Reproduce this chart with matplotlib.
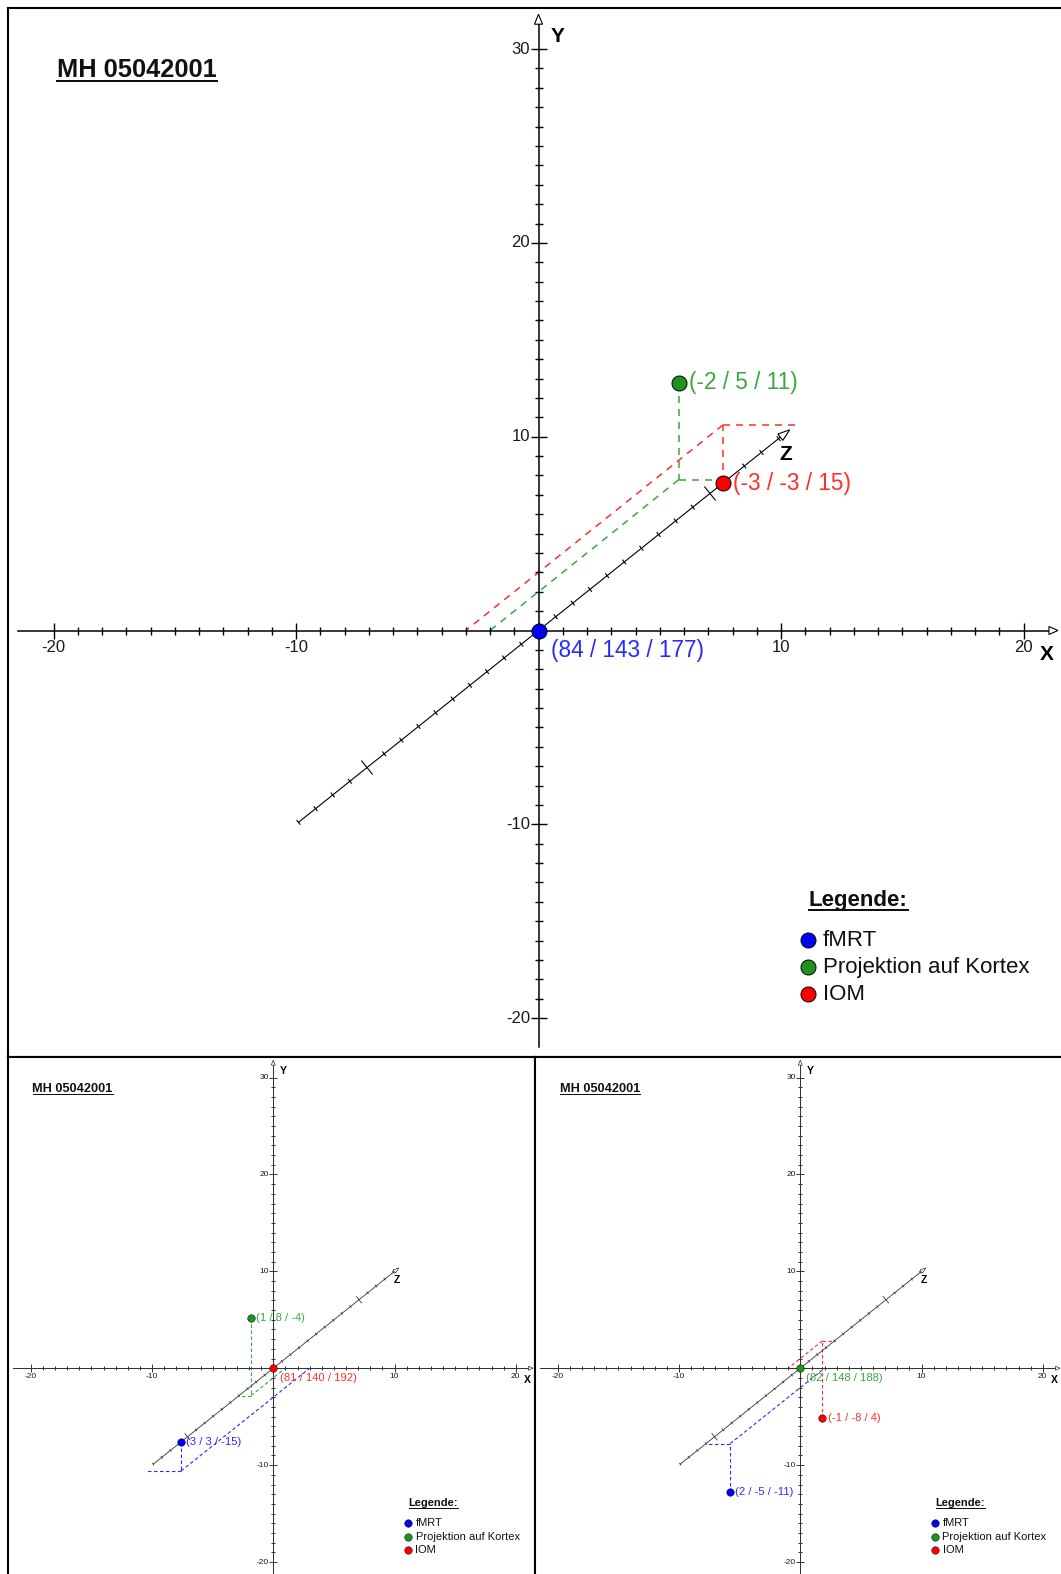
import math
import matplotlib
matplotlib.use("Agg")
import matplotlib.pyplot as plt
from matplotlib.lines import Line2D
from matplotlib.patches import Polygon
from matplotlib.collections import LineCollection
from matplotlib.transforms import IdentityTransform

plt.rcParams["font.family"] = ["Liberation Sans", "DejaVu Sans"]
plt.rcParams["lines.scale_dashes"] = False

# ---------------- chart content ----------------
case_id = "MH 05042001"
legend_title = "Legende:"
series_names = ["fMRT", "Projektion auf Kortex", "IOM"]
marker_colors = ["#0000ff", "#1f931f", "#ff0000"]
text_colors = ["#2a2aff", "#3aa83a", "#ff2e2e"]

x_major = [-20, -10, 10, 20]
y_major = [-20, -10, 10, 20, 30]
x_tick_span = (-20, 20)
y_tick_span = (-20, 30)
z_tick_span = (-14, 14)
z_major = [-10, 10]

# each view: the reference series sits at the origin (absolute coordinates),
# the other two series are given relative to it as x / y / z
view1_ref = "fMRT"
view1_ref_abs = [84, 143, 177]
view1_projektion = [-2, 5, 11]
view1_iom = [-3, -3, 15]

view2_ref = "IOM"
view2_ref_abs = [81, 140, 192]
view2_projektion = [1, 8, -4]
view2_fmrt = [3, 3, -15]

view3_ref = "Projektion auf Kortex"
view3_ref_abs = [82, 148, 188]
view3_iom = [-1, -8, 4]
view3_fmrt = [2, -5, -11]

views = [
    dict(ref=view1_ref, ref_abs=view1_ref_abs,
         others={"Projektion auf Kortex": view1_projektion, "IOM": view1_iom}),
    dict(ref=view2_ref, ref_abs=view2_ref_abs,
         others={"Projektion auf Kortex": view2_projektion, "fMRT": view2_fmrt}),
    dict(ref=view3_ref, ref_abs=view3_ref_abs,
         others={"IOM": view3_iom, "fMRT": view3_fmrt}),
]

# ---------------- layout ----------------
W, H, DPI = 1061, 1574, 100
SX, SY = 24.25, 19.38          # pixels per unit at full scale
ZK = 1 / math.sqrt(2)          # oblique projection of the z axis
ORIGIN_OFF = (530.5, 622.5)    # origin inside a panel (full scale)
panels = [((8, 8, 1061, 1057), 1.0),
          ((8, 1057, 535, 1574), 0.5),
          ((535, 1057, 1061, 1574), 0.5)]
spine_sides = [("left", "top", "bottom"),
               ("left", "top", "right"),
               ("left", "top")]


def px(d):
    return d / SX


def py(d):
    return d / SY


def proj(x, y, z):
    return x + ZK * z, y + ZK * z


def color_of(name):
    i = series_names.index(name)
    return marker_colors[i], text_colors[i]


def arrow_head(ax, tip, dir_px, length, half_w, lw):
    n = math.hypot(*dir_px)
    ux, uy = dir_px[0] / n, dir_px[1] / n
    bx, by = -ux * length, -uy * length
    nx, ny = -uy, ux
    pts = [(0, 0), (bx + nx * half_w, by + ny * half_w), (bx - nx * half_w, by - ny * half_w)]
    ax.add_patch(Polygon([(tip[0] + px(a), tip[1] + py(b)) for a, b in pts],
                         closed=True, fc="white", ec="black", lw=lw, zorder=4))
    return tip[0] + px(bx), tip[1] + py(by)


fig = plt.figure(figsize=(W / DPI, H / DPI), dpi=DPI)
fig.patch.set_facecolor("white")
underlines = []

for (rect, s), sides, view in zip(panels, spine_sides, views):
    left, top, right, bottom = rect
    ax = fig.add_axes([left / W, 1 - bottom / H, (right - left) / W, (bottom - top) / H])
    ox = left + ORIGIN_OFF[0] * s
    oy = top + ORIGIN_OFF[1] * s
    ax.set_xlim((left - ox) / (SX * s), (right - ox) / (SX * s))
    ax.set_ylim((oy - bottom) / (SY * s), (oy - top) / (SY * s))
    ax.set_xticks([])
    ax.set_yticks([])
    for side, sp in ax.spines.items():
        sp.set_visible(side in sides)
        sp.set_linewidth(1.5)
        sp.set_color("black")

    axis_lw = max(1.1 * s, 0.75)
    tick_lw = max(1.0 * s, 0.7)
    zline_lw = max(0.8 * s, 0.6)
    tick_fs = 12 * s
    ink = "#1a1a1a"
    axis_col = "black" if s == 1 else "#333333"

    # X axis
    xb = arrow_head(ax, (21.42, 0), (1, 0), 9, 4, 0.8 * s)
    ax.plot([-21.45, xb[0]], [0, 0], color=axis_col, lw=axis_lw, zorder=3)
    segs = []
    for v in range(x_tick_span[0], x_tick_span[1] + 1):
        if v == 0:
            continue
        h = 8 if v in x_major else 4
        segs.append([(v, -py(h)), (v, py(h))])
    # Y axis
    yb = arrow_head(ax, (0, 31.8), (0, 1), 10, 4, 0.8 * s)
    ax.plot([0, 0], [-21.5, yb[1]], color=axis_col, lw=axis_lw, zorder=3)
    for v in range(y_tick_span[0], y_tick_span[1] + 1):
        if v == 0:
            continue
        h = 8 if v in y_major else 4
        segs.append([(-px(h), v), (px(h), v)])
    ax.add_collection(LineCollection(segs, colors=axis_col, linewidths=tick_lw, zorder=3))

    # Z axis (oblique)
    zdir = (ZK * SX, ZK * SY)
    zn = math.hypot(*zdir)
    perp = (zdir[1] / zn, -zdir[0] / zn)
    z0 = proj(0, 0, z_tick_span[0])
    ztip = proj(0, 0, 14.65)
    zb = arrow_head(ax, ztip, zdir, 12, 4, 0.8 * s)
    ax.plot([z0[0], zb[0]], [z0[1], zb[1]], color=axis_col, lw=zline_lw, zorder=3)
    zsegs = []
    for v in range(z_tick_span[0], z_tick_span[1] + 1):
        if v == 0:
            continue
        h = 9 if v in z_major else 3
        cx, cy = proj(0, 0, v)
        zsegs.append([(cx - px(perp[0] * h), cy - py(perp[1] * h)),
                      (cx + px(perp[0] * h), cy + py(perp[1] * h))])
    ax.add_collection(LineCollection(zsegs, colors=axis_col, linewidths=zline_lw, zorder=3))

    # tick labels
    for v in x_major:
        ax.text(v, -py(17), f"{v}", ha="center", va="center", fontsize=tick_fs, color=ink)
    for v in y_major:
        ax.text(-px(8.5), v, f"{v}", ha="right", va="center", fontsize=tick_fs, color=ink)

    # axis names
    ax.text(px(12.5), py(630.5 - 37), "Y", ha="left", va="center",
            fontsize=15 * s, fontweight="bold")
    ax.text(px(1047 - 538.5), -py(654 - 630.5), "X", ha="center", va="center",
            fontsize=15 * s, fontweight="bold")
    ax.text(px(786 - 538.5), py(630.5 - 454), "Z", ha="center", va="center",
            fontsize=15 * s, fontweight="bold")

    # dashed construction lines and points relative to the reference
    if s == 1:
        dash = (0, (7 * 0.72, 6 * 0.72))
    else:
        dash = (0, (3.5 * 0.72, 2.5 * 0.72))
    dash_lw = max(1.1 * s, 0.8)
    for name, (x, y, z) in view["others"].items():
        mc, tc = color_of(name)
        P = proj(x, y, z)
        A = proj(x, 0, z)
        B = proj(0, 0, z)
        C = proj(x, 0, 0)
        for p, q in [(P, A), (A, B), (A, C)]:
            ax.plot([p[0], q[0]], [p[1], q[1]], color=tc, lw=dash_lw,
                    linestyle=dash, zorder=2)
    for name, (x, y, z) in view["others"].items():
        mc, tc = color_of(name)
        P = proj(x, y, z)
        ax.plot(P[0], P[1], "o", ms=10.8 * s, mfc=mc, mec="black", mew=0.7 * s, zorder=6)
        ax.text(P[0] + px(10.5), P[1], f"({x} / {y} / {z})", ha="left", va="center",
                fontsize=16.3 * s, color=tc, zorder=6)

    mc, tc = color_of(view["ref"])
    ax.plot(0, 0, "o", ms=10.8 * s, mfc=mc, mec="black", mew=0.7 * s, zorder=6)
    a, b, c = view["ref_abs"]
    ax.text(px(12.5), -py(19.5), f"({a} / {b} / {c})", ha="left", va="center",
            fontsize=16.3 * s, color=tc, zorder=6)

    # title
    t = ax.text(px(57 - 538.5), py(630.5 - 77), case_id, ha="left", va="baseline",
                fontsize=18.3 * s, fontweight="bold", color="#111111")
    underlines.append((ax, t, s))

    # legend
    lt = ax.text(px(809 - 538.5), -py(906 - 630.5), legend_title, ha="left", va="baseline",
                 fontsize=16 * s, fontweight="bold", color="#111111")
    underlines.append((ax, lt, s))
    for i, name in enumerate(series_names):
        yy = -py(940 - 630.5 + 27 * i)
        ax.plot(px(808 - 538.5), yy, "o", ms=10.8 * s, mfc=marker_colors[i],
                mec="black", mew=0.7 * s, zorder=6)
        ax.text(px(823 - 538.5), yy, name, ha="left", va="center",
                fontsize=16 * s, color="#111111")

# underline the title and the legend heading
fig.canvas.draw()
renderer = fig.canvas.get_renderer()
for ax, t, s in underlines:
    bb = t.get_window_extent(renderer)
    _, base = ax.transData.transform(t.get_position())
    yline = base - 4 * s
    fig.add_artist(Line2D([bb.x0, bb.x1], [yline, yline], color="#111111",
                          lw=2 * s * 0.72, transform=IdentityTransform()))

fig.savefig("out.png", dpi=DPI, facecolor="white")
